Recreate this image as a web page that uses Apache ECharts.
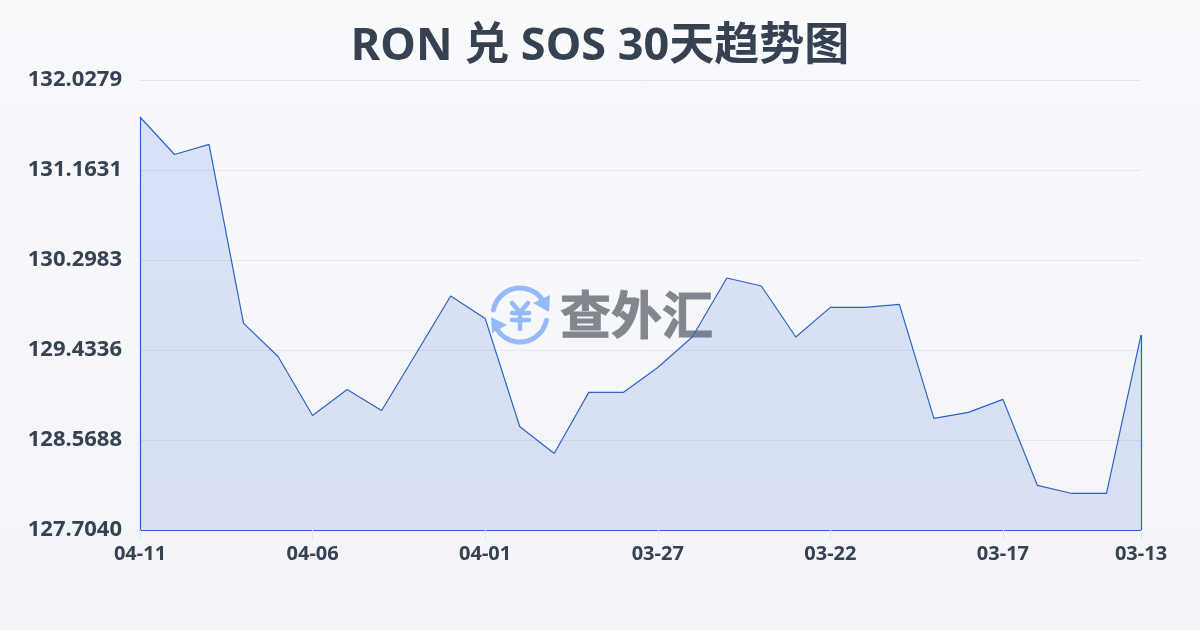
<!DOCTYPE html>
<html><head><meta charset="utf-8">
<style>html,body{margin:0;padding:0;background:#f6f7f9}#c{width:1200px;height:630px}</style>
<script src="https://cdn.jsdelivr.net/npm/echarts@6/dist/echarts.min.js"></script>
</head><body><div id="c"></div>
<script>
const titleText = 'RON 兑 SOS 30天趋势图';
const watermarkText = '查外汇';
const dates = ['04-11','04-10','04-09','04-08','04-07','04-06','04-05','04-04','04-03','04-02','04-01','03-31','03-30','03-29','03-28','03-27','03-26','03-25','03-24','03-23','03-22','03-21','03-20','03-19','03-18','03-17','03-16','03-15','03-14','03-13'];
const rates = [131.6724,131.3120,131.4100,129.6900,129.3710,128.8040,129.0540,128.8520,129.4000,129.9524,129.7370,128.6990,128.4390,129.0260,129.0260,129.2660,129.5584,130.1253,130.0484,129.5584,129.8430,129.8430,129.8720,128.7760,128.8340,128.9590,128.1320,128.0550,128.0550,129.5776];
const yMin = 127.7040, yMax = 132.0279, yStep = 0.86478;
const shownX = [0,5,10,15,20,25,29];
const fontFam = '"Noto Sans","Noto Sans CJK SC",sans-serif';
const ink = '#364152', stroke = '#2f62c9', logoBlue = '#94bafa';
const chart = echarts.init(document.getElementById('c'));
const edge = {lineStyle:{color:stroke,width:1.2,type:'solid'}};
const logoLine = (x1,y1,x2,y2)=>({type:'line',shape:{x1,y1,x2,y2},style:{stroke:logoBlue,lineWidth:4.5,lineCap:'round'}});
chart.setOption({
  animation:false,
  backgroundColor:{type:'linear',x:0,y:0,x2:0,y2:1,colorStops:[{offset:0,color:'#f9fafc'},{offset:1,color:'#f2f4f7'}]},
  title:{text:titleText,left:'center',top:20,textStyle:{fontFamily:fontFam,fontSize:45,fontWeight:'bold',color:ink}},
  grid:{left:140,right:59,top:80,bottom:100},
  xAxis:{type:'category',boundaryGap:false,data:dates,
    axisLine:{show:true,lineStyle:{color:stroke,width:1.2}},
    axisTick:{show:true,length:10,interval:i=>shownX.includes(i),lineStyle:{color:'#e3e6eb'}},
    axisLabel:{interval:i=>shownX.includes(i),hideOverlap:false,showMinLabel:true,showMaxLabel:true,margin:14,fontFamily:fontFam,fontSize:20,fontWeight:'bold',color:ink},
    splitLine:{show:false}},
  yAxis:{type:'value',min:yMin,max:yMax,interval:yStep,
    axisLine:{show:false},axisTick:{show:false},
    axisLabel:{margin:18,verticalAlign:'middle',padding:[0,0,2,0],fontFamily:fontFam,fontSize:22,fontWeight:'bold',color:ink,formatter:v=>v.toFixed(4)},
    splitLine:{show:true,lineStyle:{color:'#e5e7ec',width:1}}},
  graphic:[
    {type:'group',z:1,silent:true,children:[
      {type:'arc',shape:{cx:520,cy:315,r:27,startAngle:-2.95,endAngle:-0.55},style:{stroke:logoBlue,lineWidth:5,fill:'none',lineCap:'round'}},
      {type:'arc',shape:{cx:520,cy:315,r:27,startAngle:0.2,endAngle:2.6},style:{stroke:logoBlue,lineWidth:5,fill:'none',lineCap:'round'}},
      {type:'polygon',shape:{points:[[550,295],[549,312],[533,303]]},style:{fill:logoBlue}},
      {type:'polygon',shape:{points:[[491,317],[507,325],[492,333]]},style:{fill:logoBlue}},
      logoLine(512,303,520,312),logoLine(528,303,520,312),logoLine(520,312,520,329),
      logoLine(512,313,529,313),logoLine(512,320,529,320),
      {type:'text',style:{x:560,y:315,text:watermarkText,align:'left',verticalAlign:'middle',fontFamily:'"Noto Sans CJK SC",sans-serif',fontSize:51,fontWeight:'bold',fill:'#82868f',stroke:'#82868f',lineWidth:1}}
    ]}
  ],
  series:[{type:'line',data:rates,symbol:'none',smooth:false,z:5,
    lineStyle:{color:stroke,width:1.2},
    areaStyle:{origin:'start',opacity:1,color:{type:'linear',x:0,y:0,x2:0,y2:1,colorStops:[{offset:0,color:'rgba(59,120,235,0.17)'},{offset:1,color:'rgba(37,84,200,0.13)'}]}},
    markLine:{silent:true,symbol:'none',label:{show:false},animation:false,data:[
      [{coord:[dates[0],yMin],...edge},{coord:[dates[0],rates[0]]}],
      [{coord:[dates[29],yMin],...edge},{coord:[dates[29],rates[29]]}]
    ]}
  }]
});
</script></body></html>
